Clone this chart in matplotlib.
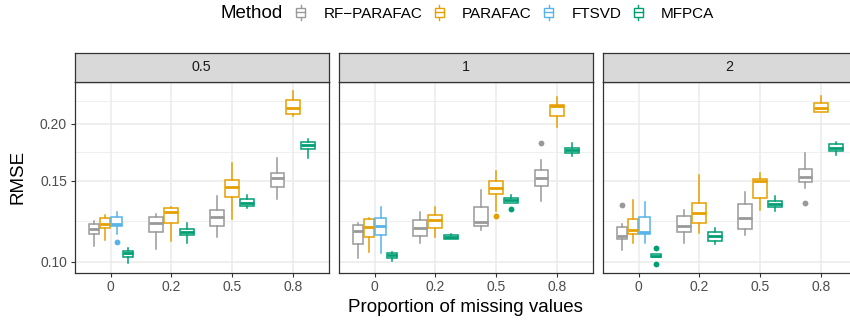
import matplotlib
matplotlib.use("Agg")
import matplotlib.pyplot as plt
from matplotlib.ticker import FixedLocator, NullFormatter
from matplotlib.legend_handler import HandlerBase
from matplotlib.patches import Rectangle, Patch
from matplotlib.lines import Line2D

plt.rcParams['font.family'] = ['Liberation Sans', 'DejaVu Sans']

props = ["0", "0.2", "0.5", "0.8"]
facets = ["0.5", "1", "2"]
methods = ["RF-PARAFAC", "PARAFAC", "FTSVD", "MFPCA"]
labels = ["RF\u2212PARAFAC", "PARAFAC", "FTSVD", "MFPCA"]
colors = ["#999999", "#E69F00", "#56B4E9", "#009E73"]

# (lower whisker, Q1, median, Q3, upper whisker); rows = facets, cols = props
rf_parafac = [
    [(0.1084, 0.1147, 0.1177, 0.1206, 0.1228), (0.1064, 0.1159, 0.1216, 0.1253, 0.1268),
     (0.1134, 0.1196, 0.1253, 0.1296, 0.1393), (0.1370, 0.1457, 0.1524, 0.1558, 0.1680)],
    [(0.1017, 0.1095, 0.1167, 0.1202, 0.1216), (0.1097, 0.1138, 0.1186, 0.1233, 0.1281),
     (0.1172, 0.1198, 0.1222, 0.1318, 0.1433), (0.1358, 0.1462, 0.1520, 0.1584, 0.1666)],
    [(0.1060, 0.1119, 0.1139, 0.1188, 0.1206), (0.1100, 0.1162, 0.1196, 0.1260, 0.1296),
     (0.1143, 0.1178, 0.1247, 0.1336, 0.1421), (0.1445, 0.1489, 0.1532, 0.1592, 0.1728)],
]
parafac = [
    [(0.1115, 0.1182, 0.1208, 0.1243, 0.1264), (0.1109, 0.1212, 0.1281, 0.1307, 0.1318),
     (0.1237, 0.1381, 0.1452, 0.1507, 0.1638), (0.2077, 0.2098, 0.2159, 0.2251, 0.2354)],
    [(0.1051, 0.1130, 0.1192, 0.1237, 0.1243), (0.1134, 0.1182, 0.1233, 0.1262, 0.1318),
     (0.1291, 0.1404, 0.1445, 0.1497, 0.1579), (0.1969, 0.2080, 0.2184, 0.2195, 0.2281)],
    [(0.1097, 0.1149, 0.1172, 0.1239, 0.1363), (0.1157, 0.1212, 0.1275, 0.1345, 0.1545),
     (0.1296, 0.1374, 0.1499, 0.1512, 0.1558), (0.2116, 0.2122, 0.2159, 0.2214, 0.2296)],
]
# FTSVD only run with no missing values
ftsvd = [
    [(0.1149, 0.1198, 0.1208, 0.1249, 0.1281), None, None, None],
    [(0.1043, 0.1143, 0.1198, 0.1247, 0.1318), None, None, None],
    [(0.1100, 0.1149, 0.1162, 0.1253, 0.1351), None, None, None],
]
mfpca = [
    [(0.0992, 0.1025, 0.1043, 0.1055, 0.1070), (0.1097, 0.1143, 0.1159, 0.1177, 0.1212),
     (0.1307, 0.1322, 0.1345, 0.1368, 0.1397), (0.1680, 0.1763, 0.1796, 0.1826, 0.1848)],
    [(0.1004, 0.1020, 0.1034, 0.1043, 0.1048), (0.1119, 0.1122, 0.1134, 0.1143, 0.1149),
     (0.1340, 0.1345, 0.1363, 0.1374, 0.1397), (0.1699, 0.1728, 0.1749, 0.1766, 0.1811)],
    [(0.1025, 0.1025, 0.1031, 0.1039, 0.1039), (0.1091, 0.1111, 0.1139, 0.1159, 0.1182),
     (0.1291, 0.1318, 0.1336, 0.1354, 0.1393), (0.1708, 0.1743, 0.1772, 0.1802, 0.1826)],
]
# (method, facet index, prop index, value)
outliers = [
    ("FTSVD", 0, 0, 0.1102),
    ("PARAFAC", 1, 2, 0.1260),
    ("MFPCA", 1, 2, 0.1303),
    ("RF-PARAFAC", 1, 3, 0.1817),
    ("RF-PARAFAC", 2, 0, 0.1329),
    ("MFPCA", 2, 0, 0.1070),
    ("MFPCA", 2, 0, 0.0987),
    ("RF-PARAFAC", 2, 3, 0.1340),
]
summaries = {"RF-PARAFAC": rf_parafac, "PARAFAC": parafac, "FTSVD": ftsvd, "MFPCA": mfpca}

W, H = 850, 322
def fbox(l, t, w, h):
    return [l / W, 1 - (t + h) / H, w / W, h / H]

fig = plt.figure(figsize=(W / 100, H / 100), dpi=100)

panel_left = [74.5, 338.5, 602.5]
panel_w = 254.5
panel_top, panel_h = 82.0, 190.5
strip_top = 52.5
dark = "#333333"

for fi, fac in enumerate(facets):
    ax = fig.add_axes(fbox(panel_left[fi], panel_top, panel_w, panel_h))
    ax.set_yscale("log")
    ax.set_ylim(0.09473, 0.2463)
    ax.set_xlim(0.4, 4.6)
    ax.set_axisbelow(True)

    for pi in range(len(props)):
        present = [m for m in methods if summaries[m][fi][pi] is not None]
        n = len(present)
        step = 0.75 / n
        for k, m in enumerate(present):
            s = summaries[m][fi][pi]
            c = colors[methods.index(m)]
            pos = pi + 1 + (k - (n - 1) / 2) * step
            fl = [o[3] for o in outliers if o[0] == m and o[1] == fi and o[2] == pi]
            st = dict(whislo=s[0], q1=s[1], med=s[2], q3=s[3], whishi=s[4], fliers=fl)
            ax.bxp([st], positions=[pos], widths=[step * 0.92], patch_artist=True,
                   showcaps=False, manage_ticks=False,
                   boxprops=dict(facecolor="white", edgecolor=c, linewidth=1.1),
                   whiskerprops=dict(color=c, linewidth=1.1),
                   medianprops=dict(color=c, linewidth=2.0, solid_capstyle="butt"),
                   flierprops=dict(marker="o", markerfacecolor=c, markeredgecolor="none",
                                   markersize=4.2))

    ax.set_xticks(range(1, len(props) + 1))
    ax.set_xticklabels(props)
    ax.yaxis.set_major_locator(FixedLocator([0.10, 0.15, 0.20, 0.25]))
    ax.yaxis.set_minor_locator(FixedLocator([0.1225, 0.1732, 0.2236]))
    ax.yaxis.set_minor_formatter(NullFormatter())
    ax.grid(True, which="major", color="#EBEBEB", linewidth=1.1)
    ax.grid(True, which="minor", axis="y", color="#EBEBEB", linewidth=0.55)
    ax.tick_params(which="minor", length=0)
    ax.tick_params(which="major", length=2.9, width=0.8, color=dark,
                   labelcolor="#4D4D4D", labelsize=10, pad=2.5)
    if fi == 0:
        ax.set_yticklabels(["0.10", "0.15", "0.20", "0.25"])
    else:
        ax.tick_params(axis="y", which="both", left=False, labelleft=False)
    for sp in ax.spines.values():
        sp.set_color(dark)
        sp.set_linewidth(0.9)

    sx = fig.add_axes(fbox(panel_left[fi], strip_top, panel_w, panel_top - strip_top))
    sx.set_facecolor("#D9D9D9")
    sx.set_xticks([])
    sx.set_yticks([])
    for sp in sx.spines.values():
        sp.set_color(dark)
        sp.set_linewidth(0.9)
    sx.text(0.5, 0.5, fac, ha="center", va="center", fontsize=10.3, color="#1A1A1A",
            transform=sx.transAxes)

fig.text(465.8 / W, 1 - 311.5 / H, "Proportion of missing values", ha="center",
         va="baseline", fontsize=13.5, color="black")
fig.text(18.3 / W, 1 - 177.3 / H, "RMSE", rotation=90, ha="center", va="center",
         fontsize=13.5, color="black")


class BoxKey(HandlerBase):
    def create_artists(self, legend, orig, xd, yd, width, height, fontsize, trans):
        c = orig.get_edgecolor()
        x0, y0 = -xd, -yd
        cx = x0 + width / 2
        whisk = Line2D([cx, cx], [y0 - 0.2 * height, y0 + 1.2 * height], color=c,
                       lw=1.0, transform=trans)
        box = Rectangle((x0, y0 + 0.1 * height), width, 0.8 * height, facecolor="white",
                        edgecolor=c, lw=1.0, transform=trans)
        med = Line2D([x0, x0 + width], [y0 + 0.5 * height] * 2, color=c, lw=1.0,
                     transform=trans)
        return [whisk, box, med]


handles = [Patch(edgecolor=c, facecolor="white") for c in colors]
fig.text(220 / W, 1 - 13.8 / H, "Method", ha="left", va="center", fontsize=13.5,
         color="black")
fig.legend(handles, labels, handler_map={Patch: BoxKey()}, loc="center left",
           bbox_to_anchor=(296 / W, 1 - 13.8 / H), ncol=4, frameon=False, fontsize=11,
           handlelength=0.6, handleheight=0.65, handletextpad=1.2, columnspacing=0.8,
           borderpad=0, borderaxespad=0)

fig.savefig("out.png", dpi=100)
